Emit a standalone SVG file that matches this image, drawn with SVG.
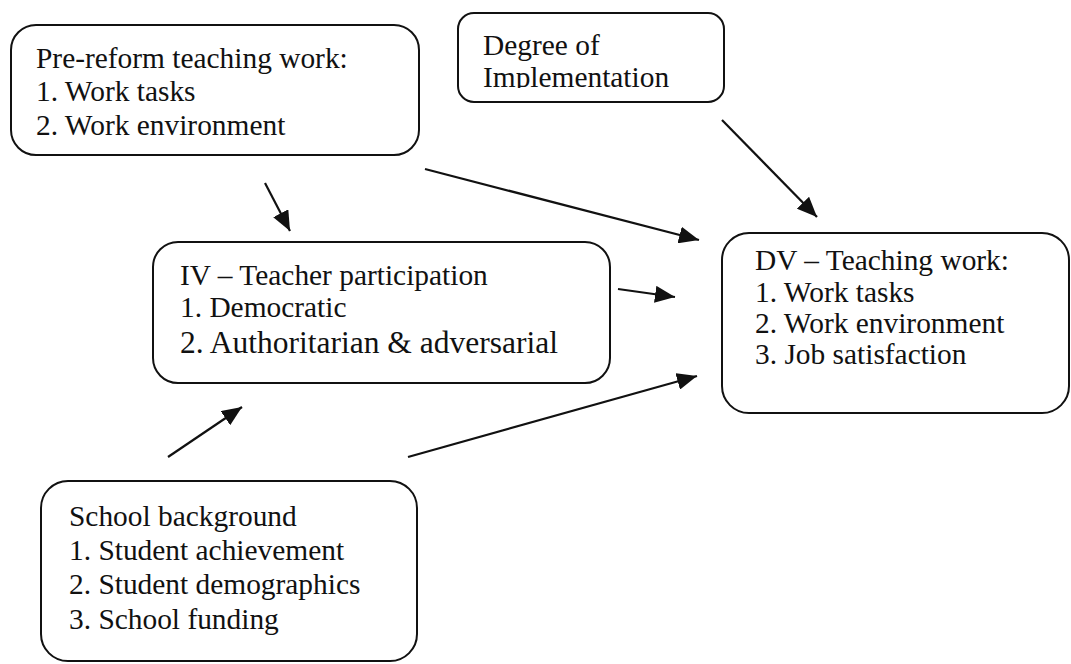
<svg xmlns="http://www.w3.org/2000/svg" width="1071" height="664" viewBox="0 0 1071 664">
  <style>
    .box { fill: #ffffff; stroke: #111111; stroke-width: 2; }
    .label { font-family: "Liberation Serif", "Times New Roman", serif; font-size: 29.4px; fill: #111111; }
    .big { font-size: 31.5px; }
    .link { stroke: #111111; stroke-width: 2.2; fill: none; marker-end: url(#head); }
  </style>
  <defs>
    <marker id="head" markerUnits="userSpaceOnUse" markerWidth="21" markerHeight="17" refX="20" refY="8.5" orient="auto">
      <path d="M0,0 L20,8.5 L0,17 z" fill="#111111"/>
    </marker>
    <clipPath id="degreeClip">
      <rect x="455" y="10" width="275" height="78"/>
    </clipPath>
  </defs>

  <rect width="1071" height="664" fill="#ffffff"/>

  <g id="connectors">
    <line class="link" x1="265" y1="183" x2="290" y2="231"/>
    <line class="link" x1="425" y1="169" x2="699" y2="240"/>
    <line class="link" x1="618" y1="289" x2="675" y2="297"/>
    <line class="link" x1="408" y1="457" x2="697" y2="376"/>
    <line class="link" x1="722" y1="120" x2="817" y2="217"/>
    <line class="link" x1="168" y1="457" x2="242" y2="407"/>
  </g>

  <g id="pre-reform">
    <rect class="box" x="11" y="25" width="408" height="130" rx="25" ry="25"/>
    <text class="label" x="36" y="68">Pre-reform teaching work:</text>
    <text class="label" x="36" y="101">1. Work tasks</text>
    <text class="label" x="36" y="135">2. Work environment</text>
  </g>

  <g id="degree">
    <rect class="box" x="458" y="13" width="266" height="89" rx="16" ry="16"/>
    <g clip-path="url(#degreeClip)">
      <text class="label" x="483" y="55">Degree of</text>
      <text class="label" x="483" y="87">Implementation</text>
    </g>
  </g>

  <g id="teacher-participation">
    <rect class="box" x="153" y="242" width="457" height="141" rx="25" ry="25"/>
    <text class="label" x="180" y="285">IV – Teacher participation</text>
    <text class="label" x="180" y="317">1. Democratic</text>
    <text class="label big" x="180" y="353">2. Authoritarian &amp; adversarial</text>
  </g>

  <g id="teaching-work">
    <rect class="box" x="722" y="233" width="347" height="180" rx="27" ry="27"/>
    <text class="label" x="755" y="270">DV – Teaching work:</text>
    <text class="label" x="755" y="302">1. Work tasks</text>
    <text class="label" x="755" y="333">2. Work environment</text>
    <text class="label" x="755" y="364">3. Job satisfaction</text>
  </g>

  <g id="school-background">
    <rect class="box" x="41" y="481" width="376" height="180" rx="27" ry="27"/>
    <text class="label" x="69" y="526">School background</text>
    <text class="label" x="69" y="560">1. Student achievement</text>
    <text class="label" x="69" y="594">2. Student demographics</text>
    <text class="label" x="69" y="629">3. School funding</text>
  </g>
</svg>
